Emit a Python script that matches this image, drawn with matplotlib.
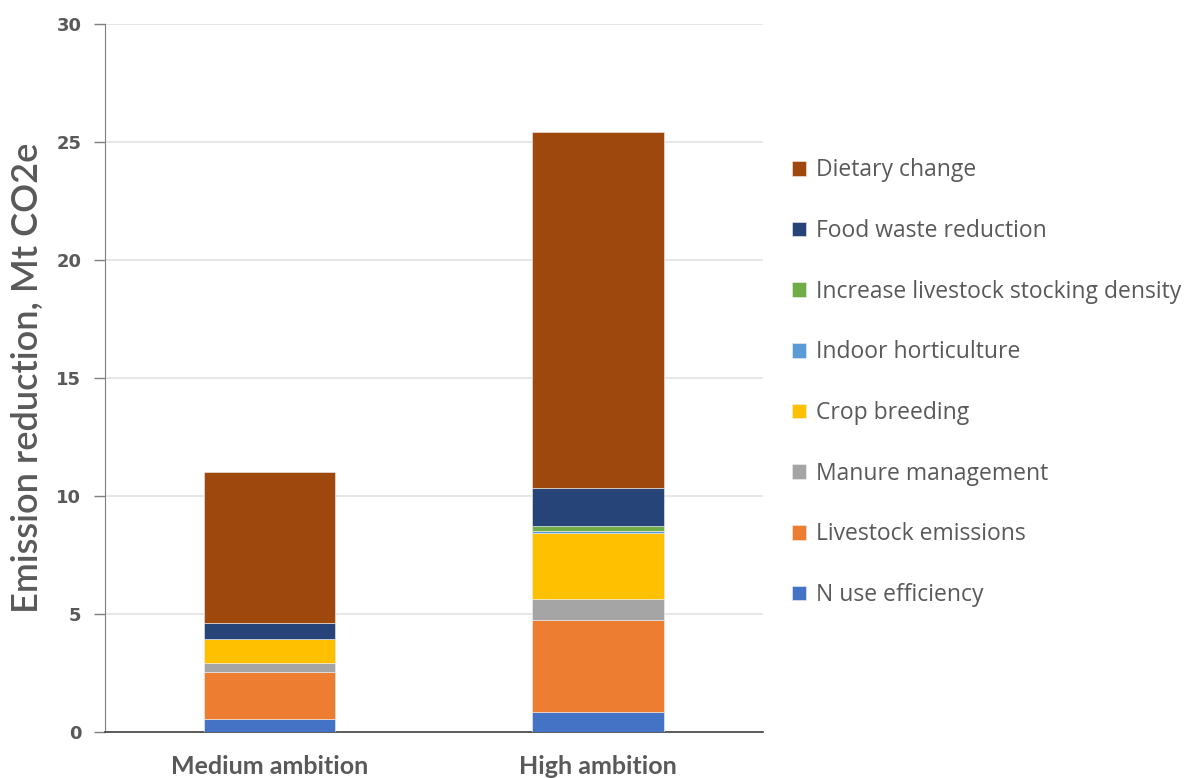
import matplotlib.pyplot as plt
import numpy as np

plt.rcParams['font.family'] = ['Lato', 'DejaVu Sans']

scenarios = ["Medium ambition", "High ambition"]
measures = [
    "N use efficiency",
    "Livestock emissions",
    "Manure management",
    "Crop breeding",
    "Indoor horticulture",
    "Increase livestock stocking density",
    "Food waste reduction",
    "Dietary change",
]
n_use = [0.58, 0.86]
livestock = [1.99, 3.89]
manure = [0.38, 0.89]
crop_breeding = [1.00, 2.81]
indoor_hort = [0.0, 0.07]
stocking_density = [0.0, 0.22]
food_waste = [0.67, 1.62]
dietary = [6.42, 15.08]

series = [n_use, livestock, manure, crop_breeding, indoor_hort,
          stocking_density, food_waste, dietary]
colors = ["#4472C4", "#ED7D31", "#A5A5A5", "#FFC000", "#5B9BD5",
          "#70AD47", "#264478", "#9E480E"]

fig = plt.figure(figsize=(11.88, 7.78), dpi=100)
ax = fig.add_axes([0.0884, 0.0585, 0.5535, 0.9105])

x = np.arange(len(scenarios))
bottom = np.zeros(len(scenarios))
handles = []
for vals, col, name in zip(series, colors, measures):
    h = ax.bar(x, vals, width=0.4, bottom=bottom, color=col,
               edgecolor="#f0f0f0", linewidth=0.4, label=name, zorder=3)
    handles.append(h)
    bottom += np.array(vals)

text_col = "#595959"
ax.set_xlim(-0.5, 1.5)
ax.set_ylim(0, 30)
ax.set_yticks([0, 5, 10, 15, 20, 25, 30])
ax.set_xticks(x)
ax.set_xticklabels(scenarios, fontsize=18, fontweight="bold", color=text_col)
ax.tick_params(axis="x", length=0, pad=16)
ax.tick_params(axis="y", length=8, width=1, color="#7f7f7f", pad=9,
               labelcolor=text_col)
for lbl in ax.get_yticklabels():
    lbl.set_fontweight("bold")
    lbl.set_fontfamily("DejaVu Sans")
    lbl.set_fontsize(13)
ax.yaxis.grid(True, color="#e3e3e3", linewidth=1.2, zorder=0)
ax.set_axisbelow(True)
for s in ["top", "right"]:
    ax.spines[s].set_visible(False)
ax.spines["left"].set_color("#7f7f7f")
ax.spines["bottom"].set_color("#404040")
ax.spines["bottom"].set_linewidth(1.2)
ax.set_ylabel("Emission reduction, Mt CO2e", fontsize=26, color=text_col,
              fontweight="semibold", labelpad=9)

leg = fig.legend(handles[::-1], measures[::-1], loc="upper left",
                 bbox_to_anchor=(0.6495, 0.823), frameon=False,
                 prop={"family": "Open Sans", "size": 16.5},
                 labelspacing=1.6, handlelength=0.6,
                 handleheight=0.6, handletextpad=0.42, labelcolor=text_col)

fig.savefig("out.png", dpi=100)
